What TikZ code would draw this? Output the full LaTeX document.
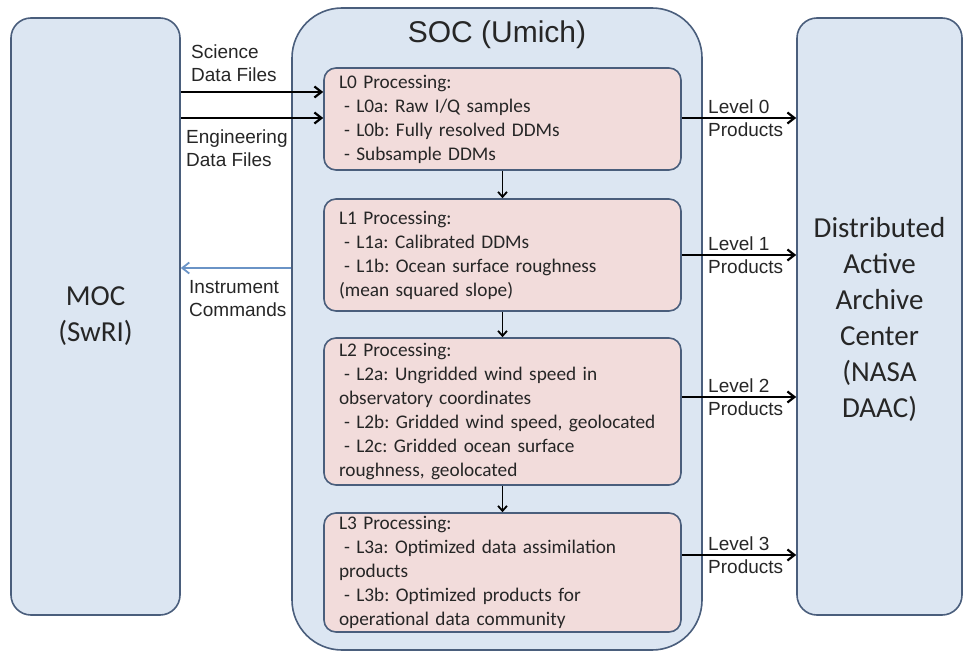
\documentclass[tikz,border=0pt]{standalone}
\usepackage{fontspec}
\setmainfont{Carlito}
\newfontfamily\arialfont{Liberation Sans}
\usetikzlibrary{arrows.meta}
\definecolor{boxblue}{HTML}{DCE6F2}
\definecolor{boxpink}{HTML}{F2DCDB}
\definecolor{edge}{HTML}{4A5E7C}
\definecolor{cmdblue}{HTML}{6A93C6}
\definecolor{ink}{HTML}{262626}
\frenchspacing
\hyphenpenalty=10000
\begin{document}
\begin{tikzpicture}[x=1pt,y=-1pt,>={Straight Barb[length=7pt,width=11pt]},
 bigbox/.style={draw=edge,line width=1.6pt,fill=boxblue,rounded corners=20pt,inner sep=0pt,text=ink,font=\fontsize{29}{36}\selectfont,align=center},
 procbox/.style={draw=edge,line width=1.6pt,fill=boxpink,rounded corners=12pt,inner xsep=15pt,inner ysep=0pt,text width=327pt,minimum height=#1,align=left,text=ink,font=\fontsize{19.3}{24}\selectfont},
 lbl/.style={anchor=west,align=left,text=ink,inner sep=0pt,font=\arialfont\fontsize{19}{23}\selectfont},
 flow/.style={->,line width=2.2pt,black}]
 \useasboundingbox(0,0)rectangle(965,655);
 \node[bigbox,minimum width=169pt,minimum height=597pt](moc)at(95.5,316.5){MOC\\(SwRI)};
 \node[bigbox,rounded corners=50pt,minimum width=410pt,minimum height=642pt](soc)at(497,329){};
 \node[text=ink,font=\arialfont\fontsize{30}{36}\selectfont](soctitle)at(497,35){SOC (Umich)};
 \node[bigbox,minimum width=165pt,minimum height=597pt](daac)at(879.5,316.5){\\[-10pt]Distributed\\Active\\Archive\\Center\\(NASA\\DAAC)};
 % processing levels
 \node[procbox=102pt](lzero)at(502.5,119){L0 Processing:\\\hspace*{5pt}- L0a: Raw I/Q samples\\\hspace*{5pt}- L0b: Fully resolved DDMs\\\hspace*{5pt}- Subsample DDMs};
 \node[procbox=112pt](lone)at(502.5,255){L1 Processing:\\\hspace*{5pt}- L1a: Calibrated DDMs\\\hspace*{5pt}- L1b: Ocean surface roughness\\(mean squared slope)};
 \node[procbox=147pt](ltwo)at(502.5,411.5){L2 Processing:\\\hspace*{5pt}- L2a: Ungridded wind speed in\\observatory coordinates\\\hspace*{5pt}\mbox{- L2b: Gridded wind speed, geolocated}\\\hspace*{5pt}- L2c: Gridded ocean surface\\roughness, geolocated};
 \node[procbox=119pt](lthree)at(502.5,572.5){L3 Processing:\\\hspace*{5pt}- L3a: Optimized data assimilation\\products\\\hspace*{5pt}- L3b: Optimized products for\\operational data community};
 \foreach \a/\b in {lzero/lone,lone/ltwo,ltwo/lthree}
 {
     \draw[->,line width=1.8pt,>={Straight Barb[length=5pt,width=9pt]}](\a)--(\b);
 }
 % inputs from MOC
 \coordinate(sci)at(0,92);
 \coordinate(eng)at(0,118);
 \coordinate(cmd)at(0,268);
 \draw[flow](moc.east|-sci)--(lzero.west|-sci);
 \draw[flow](moc.east|-eng)--(lzero.west|-eng);
 \draw[->,cmdblue,line width=1.8pt](soc.west|-cmd)--(moc.east|-cmd);
 \node[lbl](scitxt)at(191,63){Science\\Data Files};
 \node[lbl](engtxt)at(186,148){Engineering\\Data Files};
 \node[lbl](cmdtxt)at(189,299){Instrument\\Commands};
 % products to DAAC
 \foreach \n/\b/\y in {0/lzero/118,1/lone/255,2/ltwo/397,3/lthree/555}
 {
     \node[lbl](lv\n)at(708,\y){Level \n\\Products};
     \draw[flow](\b.east|-lv\n.west)--(daac.west|-lv\n.west);
 }
\end{tikzpicture}
\end{document}
